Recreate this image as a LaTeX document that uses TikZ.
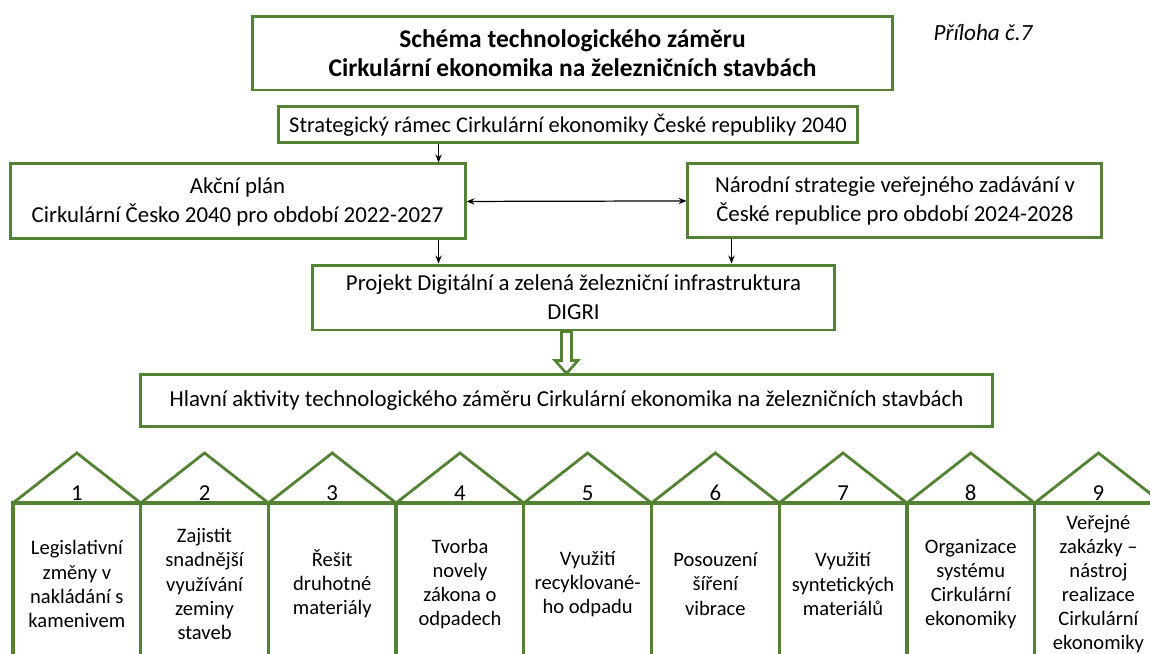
\documentclass[tikz,border=0pt]{standalone}
\usepackage{fontspec}
\setmainfont{Carlito}
\usetikzlibrary{arrows.meta, positioning}
\definecolor{ceGreen}{RGB}{84,130,53}

\begin{document}
\begin{tikzpicture}[x=0.02cm, y=-0.02cm,
        box/.style={rectangle, draw=ceGreen, line width=1.7pt, align=center, inner sep=0pt, fill=white, font=\fontsize{13}{16.5}\selectfont},
        titlebox/.style={box, font=\bfseries\fontsize{14.5}{16.8}\selectfont},
        arrow/.style={-{Stealth[length=4.5pt, width=3.6pt]}, line width=0.7pt},
        biarrow/.style={{Stealth[length=4.5pt, width=3.6pt]}-{Stealth[length=4.5pt, width=3.6pt]}, line width=0.7pt},
        hollow/.style={draw=ceGreen, line width=1.5pt, fill=white, line join=miter},
        wall/.style={draw=ceGreen, line width=1.9pt},
        roof/.style={draw=ceGreen, line width=1.6pt, line join=miter},
        acttext/.style={align=center, inner sep=0pt, font=\fontsize{11.7}{13.7}\selectfont},
        numtext/.style={inner sep=0pt, anchor=base, font=\fontsize{13}{13.7}\selectfont}
        ]

        \useasboundingbox (0,0) rectangle (1150,653);
        \clip (0,0) rectangle (1150,653);

        % Nodes
        \node (title) [titlebox, minimum width=12.82cm, minimum height=1.48cm] at (572.5,53) {Schéma technologického záměru\\Cirkulární ekonomika na železničních stavbách};
        \node (annex) [font=\itshape\fontsize{13.2}{15}\selectfont] at (983,33) {Příloha č.7};
        \node (strat) [box, below=0.28cm of title, xshift=-0.09cm, minimum width=11.6cm, minimum height=0.72cm, font=\fontsize{12.8}{15}\selectfont] {Strategický rámec Cirkulární ekonomiky České republiky 2040};
        \node (akcni) [box, below=0.36cm of strat, xshift=-6.61cm, minimum width=9.1cm, minimum height=1.5cm] {Akční plán\\Cirkulární Česko 2040 pro období 2022-2027};
        \node (narodni) [box, below=0.36cm of strat, xshift=6.54cm, minimum width=8.28cm, minimum height=1.48cm] {Národní strategie veřejného zadávání v\\České republice pro období 2024-2028};
        \node (projekt) [box, minimum width=10.46cm, minimum height=1.3cm] at (573.5,297.5) {Projekt Digitální a zelená železniční infrastruktura\\DIGRI};
        \node (hlavni) [box, below=0.84cm of projekt, xshift=-0.14cm, minimum width=17.06cm, minimum height=1.04cm] {Hlavní aktivity technologického záměru Cirkulární ekonomika na železničních stavbách};

        % Arrows
        \draw [arrow] ([xshift=-0.56cm]akcni.north east |- strat.south) -- ([xshift=-0.56cm]akcni.north east);
        \draw [biarrow] (akcni.east) -- (narodni.west);
        \draw [arrow] ([xshift=-0.56cm]akcni.south east) -- ([xshift=-0.56cm]akcni.south east |- projekt.north);
        \draw [arrow] ([xshift=0.9cm]narodni.south west) -- ([xshift=0.9cm]narodni.south west |- projekt.north);
        \draw [hollow] (hlavni.north) -- ++(-11.5,-13) -- ++(6.5,0) -- ++(0,-29) -- ++(10,0) -- ++(0,29) -- ++(6.5,0) -- cycle;

        % Activities
        \foreach \t [count=\i] in {{Legislativní\\změny v\\nakládání s\\kamenivem},
                {Zajistit\\snadnější\\využívání\\zeminy\\staveb},
                {Řešit\\druhotné\\materiály},
                {Tvorba\\novely\\zákona o\\odpadech},
                {Využití\\recyklované-\\ho odpadu},
                {Posouzení\\šíření\\vibrace},
                {Využití\\syntetických\\materiálů},
                {Organizace\\systému\\Cirkulární\\ekonomiky},
                {Veřejné\\zakázky –\\nástroj\\realizace\\Cirkulární\\ekonomiky}} {
            \pgfmathsetmacro\xl{13+127.7*(\i-1)}
            \draw [roof] (\xl,503) -- (\xl+63.85,453) -- (\xl+127.7,503);
            \draw [wall] (\xl,700) -- (\xl,503) -- (\xl+127.7,503) -- (\xl+127.7,700);
            \node (num\i) [numtext] at (\xl+63.85,500) {\i};
            \node (act\i) [acttext] at (\xl+63.85,584) {\t};
        }

    \end{tikzpicture}
\end{document}
